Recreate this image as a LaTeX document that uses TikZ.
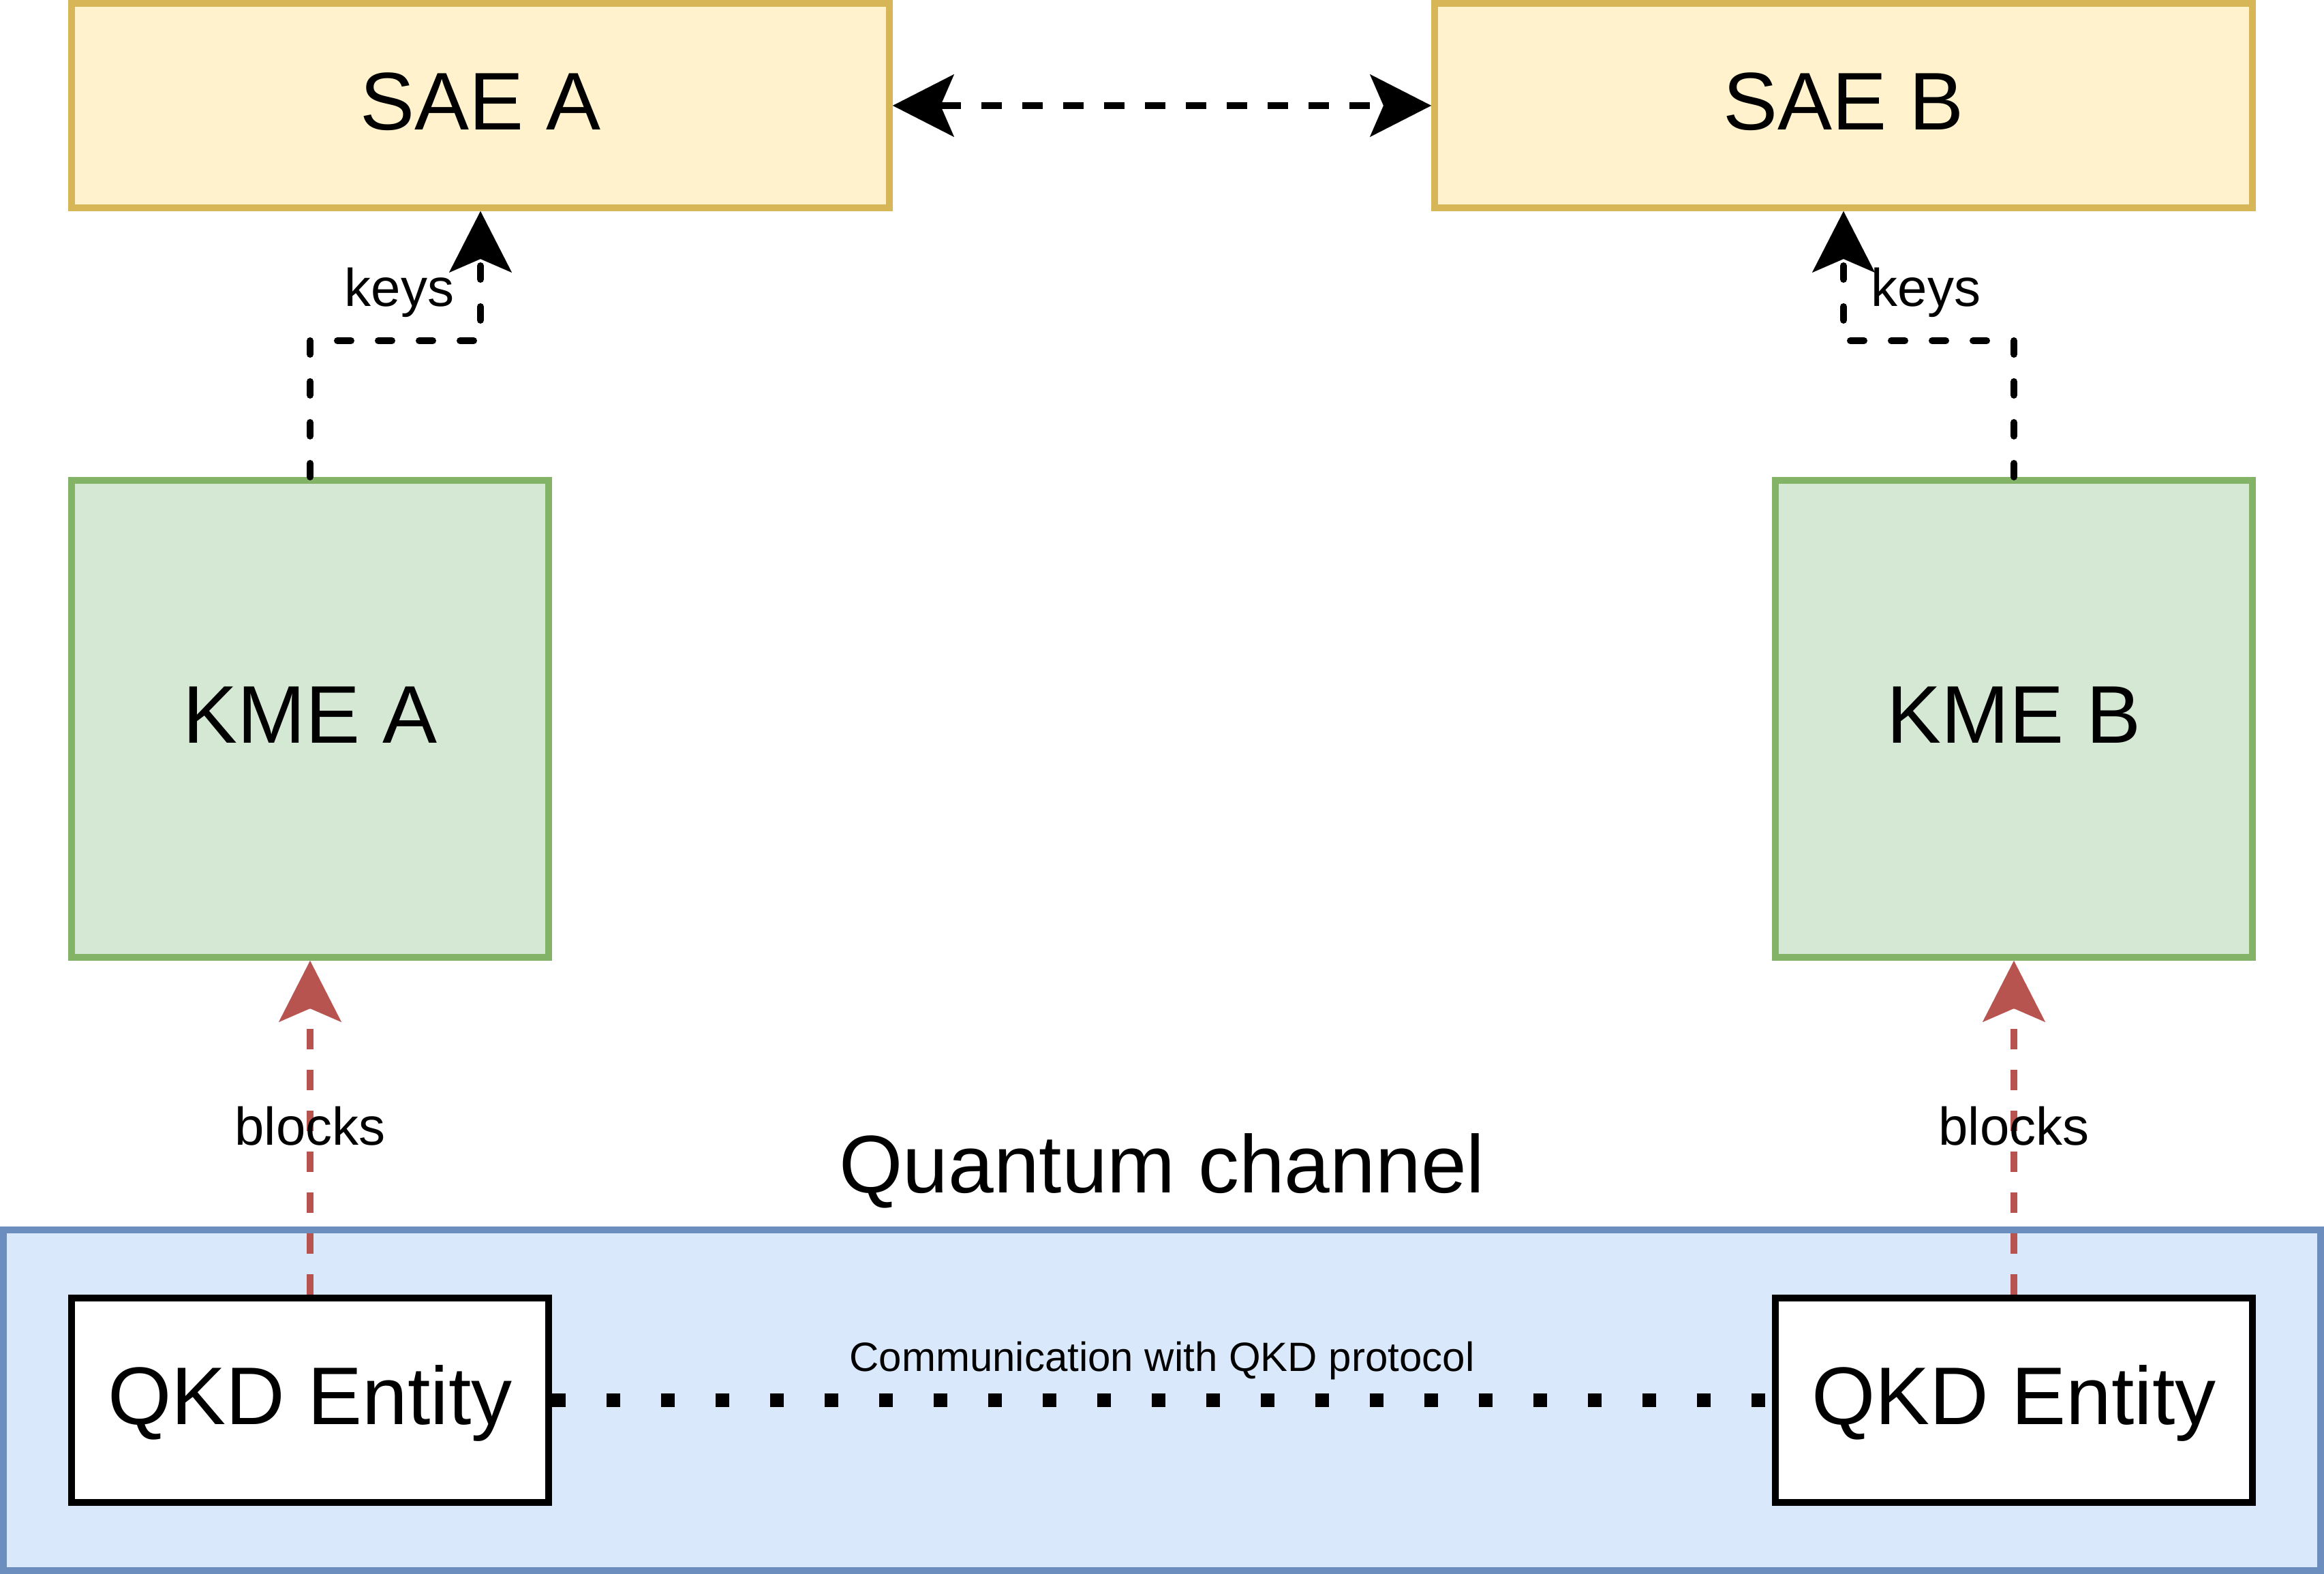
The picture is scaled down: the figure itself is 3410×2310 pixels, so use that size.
\documentclass[tikz,border=0pt]{standalone}
\usepackage{fontspec}
\setmainfont{Liberation Sans}
\usetikzlibrary{arrows.meta}
\definecolor{saefill}{HTML}{FFF2CC}
\definecolor{saedraw}{HTML}{D6B656}
\definecolor{kmefill}{HTML}{D5E8D4}
\definecolor{kmedraw}{HTML}{82B366}
\definecolor{qfill}{HTML}{DAE8FC}
\definecolor{qdraw}{HTML}{6C8EBF}
\definecolor{redline}{HTML}{B85450}
\begin{document}
\begin{tikzpicture}[x=0.25pt,y=-0.25pt,
  bigtext/.style={font=\fontsize{30pt}{36pt}\selectfont, text height=22pt, text depth=4.2pt, inner sep=0pt},
  midtext/.style={font=\fontsize{19.5pt}{23pt}\selectfont, inner sep=0pt},
  smalltext/.style={font=\fontsize{15pt}{18pt}\selectfont, inner sep=0pt},
  boxbase/.style={rectangle, line width=2.5pt, inner sep=0pt, bigtext},
  saebox/.style={boxbase, draw=saedraw, fill=saefill, minimum width=300pt, minimum height=75pt},
  kmebox/.style={boxbase, draw=kmedraw, fill=kmefill, minimum width=175pt, minimum height=175pt},
  qkdbox/.style={boxbase, draw=black, fill=white, minimum width=175pt, minimum height=75pt},
  qchbox/.style={rectangle, line width=2.5pt, inner sep=0pt, draw=qdraw, fill=qfill, minimum width=850pt, minimum height=125pt},
  bigtip/.tip={Stealth[length=22.5pt, width=23pt, inset=5pt, line width=0.01pt]},
  sync/.style={line width=2.5pt, dash pattern=on 7.5pt off 7.5pt},
  keyline/.style={line width=2.5pt, dash pattern=on 5pt off 10pt, line cap=round},
  blockline/.style={line width=2.5pt, draw=redline, dash pattern=on 7.5pt off 7.5pt},
  protoline/.style={line width=5pt, dash pattern=on 5pt off 15pt}
]
\useasboundingbox (0,0) rectangle (3410,2310);

% quantum channel region
\node[qchbox] (qch) at (1705,2055) {};
\node[bigtext, anchor=base] (qchlabel) at (1705,1750) {Quantum channel};

% boxes
\node[saebox] (saeA) at (705,155) {SAE A};
\node[saebox] (saeB) at (2705,155) {SAE B};
\node[kmebox] (kmeA) at (455,1055) {KME A};
\node[kmebox] (kmeB) at (2955,1055) {KME B};
\node[qkdbox] (qkdA) at (455,2055) {QKD Entity};
\node[qkdbox] (qkdB) at (2955,2055) {QKD Entity};

% connectors
\draw[sync, bigtip-bigtip] (saeA.east) -- (saeB.west);
\draw[keyline, -bigtip] (kmeA.north) -- ++(0,-200) -| (saeA.south);
\draw[keyline, -bigtip] (kmeB.north) -- ++(0,-200) -| (saeB.south);
\draw[blockline, -{Stealth[length=22.5pt, width=23pt, inset=5pt, line width=0.01pt, color=redline]}] (qkdA.north) -- (kmeA.south);
\draw[blockline, -{Stealth[length=22.5pt, width=23pt, inset=5pt, line width=0.01pt, color=redline]}] (qkdB.north) -- (kmeB.south);
\draw[protoline] (qkdA.east) -- (qkdB.west);

% labels
\node[midtext, anchor=base] (keysA) at (586,450) {keys};
\node[midtext, anchor=base] (keysB) at (2826,450) {keys};
\node[midtext, anchor=base] (blocksA) at (455,1680) {blocks};
\node[midtext, anchor=base] (blocksB) at (2955,1680) {blocks};
\node[smalltext, anchor=base] (comm) at (1705,2012) {Communication with QKD protocol};
\end{tikzpicture}
\end{document}
